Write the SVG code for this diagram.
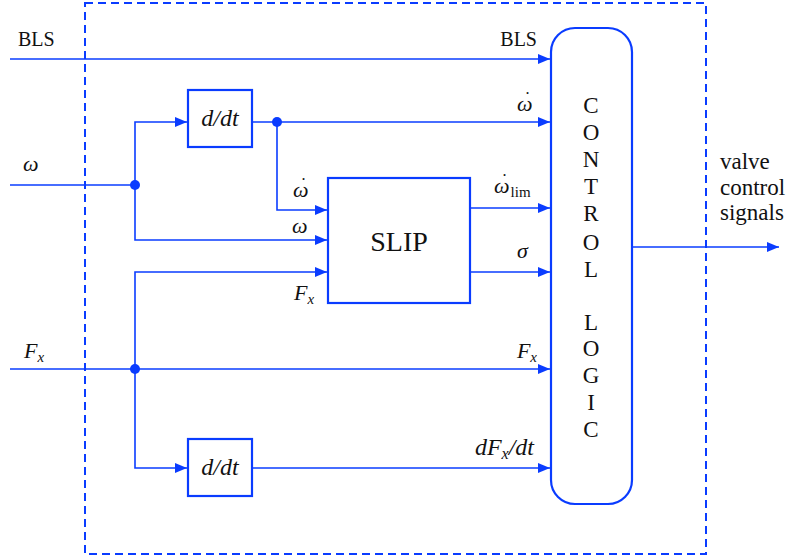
<svg xmlns="http://www.w3.org/2000/svg" width="797" height="559" viewBox="0 0 797 559">
<style>
.ln{fill:none;stroke:#0a3cff;stroke-width:1.6}
.bx{fill:#fff;stroke:#0a3cff;stroke-width:2.2}
.dot{fill:#0a3cff}
</style>
<defs>
<marker id="ah" viewBox="0 0 12 10" refX="12" refY="5" markerWidth="12" markerHeight="10" markerUnits="userSpaceOnUse" orient="auto">
<path d="M0,0 L12,5 L0,10 z" fill="#0a3cff"/>
</marker>
</defs>
<rect x="85" y="3" width="621" height="551" fill="none" stroke="#0a3cff" stroke-width="2" stroke-dasharray="8,5"/>
<g id="connectors">
<path class="ln" d="M10,59 H550" marker-end="url(#ah)"/>
<path class="ln" d="M10,185 H135"/>
<path class="ln" d="M135,185 V122 H187" marker-end="url(#ah)"/>
<path class="ln" d="M253,122 H550" marker-end="url(#ah)"/>
<path class="ln" d="M277,122 V210 H327" marker-end="url(#ah)"/>
<path class="ln" d="M135,185 V240 H327" marker-end="url(#ah)"/>
<path class="ln" d="M10,369 H550" marker-end="url(#ah)"/>
<path class="ln" d="M135,369 V272 H327" marker-end="url(#ah)"/>
<path class="ln" d="M135,369 V468 H187" marker-end="url(#ah)"/>
<path class="ln" d="M253,468 H550" marker-end="url(#ah)"/>
<path class="ln" d="M471,208 H550" marker-end="url(#ah)"/>
<path class="ln" d="M471,272 H550" marker-end="url(#ah)"/>
<path class="ln" d="M633,247 H779" marker-end="url(#ah)"/>
<circle class="dot" cx="135" cy="185" r="5"/>
<circle class="dot" cx="277" cy="122" r="5"/>
<circle class="dot" cx="135" cy="369" r="5"/>
</g>
<g font-family="Liberation Serif, serif" fill="#111">
<g id="ddt1">
<rect class="bx" x="188" y="90" width="64" height="57"/>
<text x="220" y="126" text-anchor="middle" font-style="italic" font-size="24">d/dt</text>
</g>
<g id="ddt2">
<rect class="bx" x="188" y="439" width="64" height="57"/>
<text x="220" y="475" text-anchor="middle" font-style="italic" font-size="24">d/dt</text>
</g>
<g id="slip">
<rect class="bx" x="328" y="178" width="142" height="125"/>
<text x="399" y="251" text-anchor="middle" font-size="28">SLIP</text>
</g>
<g id="control" font-size="23" text-anchor="middle">
<rect class="bx" x="551" y="28" width="81" height="476" rx="24"/>
<text x="591" y="113">C</text>
<text x="591" y="140">O</text>
<text x="591" y="167">N</text>
<text x="591" y="194">T</text>
<text x="591" y="221">R</text>
<text x="591" y="250">O</text>
<text x="591" y="277">L</text>
<text x="591" y="330">L</text>
<text x="591" y="356">O</text>
<text x="591" y="383">G</text>
<text x="591" y="410">I</text>
<text x="591" y="437">C</text>
</g>
<g id="labels" font-size="22">
<text x="18" y="46" font-size="20">BLS</text>
<text x="537" y="46" font-size="20" text-anchor="end">BLS</text>
<text x="23" y="171" font-style="italic">ω</text>
<text x="24" y="358" font-style="italic">F<tspan font-size="15" dy="4">x</tspan></text>
<text x="517" y="111" font-style="italic">ω<tspan font-style="normal" font-size="18" dx="-8" dy="-6">˙</tspan></text>
<text x="494" y="193" font-style="italic">ω<tspan font-style="normal" font-size="18" dx="-8" dy="-6">˙</tspan><tspan font-style="normal" font-size="15" dx="3" dy="10">lim</tspan></text>
<text x="517" y="258" font-style="italic">σ</text>
<text x="537" y="358" font-style="italic" text-anchor="end">F<tspan font-size="15" dy="4">x</tspan></text>
<text x="534" y="455" font-style="italic" font-size="24" text-anchor="end">dF<tspan font-size="16" dy="4">x</tspan><tspan dy="-4">/dt</tspan></text>
<text x="293" y="197" font-style="italic">ω<tspan font-style="normal" font-size="18" dx="-8" dy="-6">˙</tspan></text>
<text x="292" y="233" font-style="italic">ω</text>
<text x="294" y="300" font-style="italic">F<tspan font-size="15" dy="4">x</tspan></text>
<text x="720" y="169" font-size="23">valve</text>
<text x="720" y="195" font-size="23">control</text>
<text x="720" y="220" font-size="23">signals</text>
</g>
</g>
</svg>
